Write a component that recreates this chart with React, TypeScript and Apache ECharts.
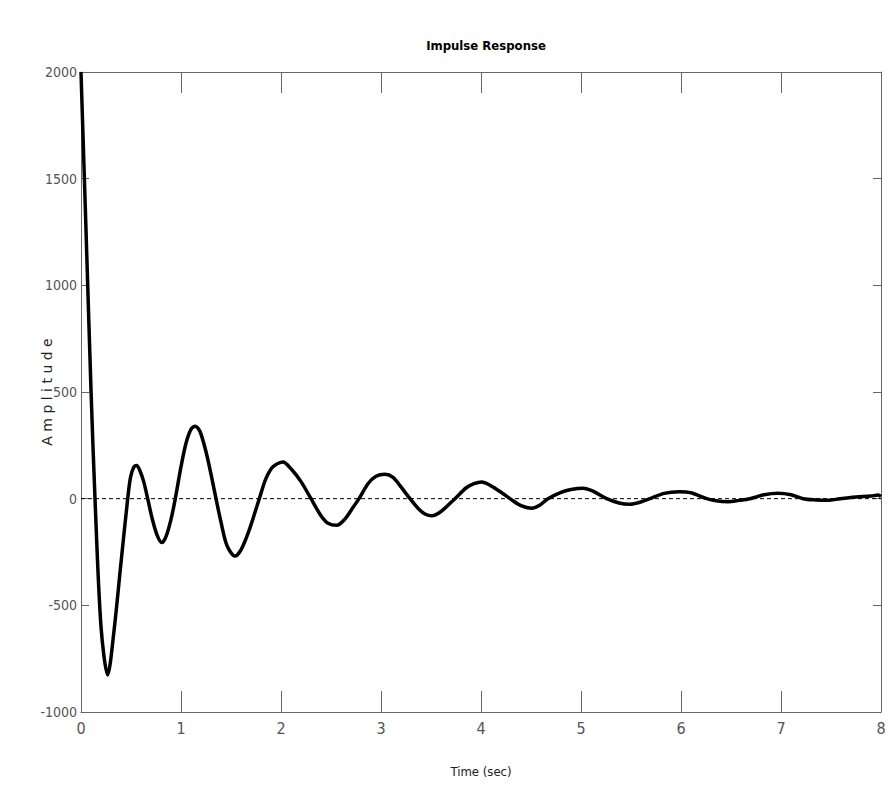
import React, { useEffect, useRef } from "react";
import * as echarts from "echarts";

const times = [
  0, 0.05, 0.1, 0.14, 0.2, 0.267, 0.33, 0.4, 0.467, 0.495, 0.525, 0.557, 0.59, 0.627, 0.667,
  0.71, 0.76, 0.807, 0.85, 0.9, 0.943, 1.0, 1.05, 1.1, 1.143, 1.19, 1.25, 1.3, 1.35, 1.4,
  1.46, 1.54, 1.6, 1.68, 1.783, 1.85, 1.92, 2.02, 2.1, 2.2, 2.3, 2.4, 2.47, 2.557, 2.64,
  2.7, 2.78, 2.87, 2.95, 3.04, 3.12, 3.2, 3.29, 3.38, 3.44, 3.507, 3.6, 3.74, 3.85, 3.93,
  4.007, 4.1, 4.2, 4.29, 4.4, 4.507, 4.59, 4.67, 4.8, 4.9, 5.02, 5.12, 5.257, 5.38, 5.49,
  5.58, 5.69, 5.83, 5.98, 6.1, 6.257, 6.35, 6.47, 6.58, 6.69, 6.83, 6.97, 7.1, 7.22, 7.35,
  7.47, 7.59, 7.75, 7.9, 7.97, 8.0,
];
const amplitude = [
  2000, 1260, 510, 0, -600, -826, -620, -300, 0, 100, 145, 155, 130, 80, 0,
  -90, -170, -206, -178, -97, 0, 150, 260, 325, 340, 315, 220, 115, 0, -110,
  -220, -269, -240, -150, 0, 95, 150, 172, 140, 80, 0, -80, -115, -125, -95,
  -55, 0, 70, 105, 114, 100, 55, 0, -50, -72, -80, -60, 0, 50, 70,
  78, 60, 30, 0, -33, -45, -30, 0, 30, 43, 49, 35, 0, -20, -26,
  -18, 0, 25, 33, 28, 0, -10, -14, -8, 0, 18, 25, 18, 0, -6,
  -8, 0, 8, 12, 17, 10,
];
const zeroLine = [
  [0, 0],
  [8, 0],
];
const titleText = "Impulse Response";
const xName = "Time (sec)";
const yName = "A m p l i t u d e";

const narrow = "'Liberation Sans Narrow', 'DejaVu Sans Condensed', 'Liberation Sans', sans-serif";
const axisGray = "#666666";

export default function App() {
  const ref = useRef<HTMLDivElement>(null);
  useEffect(() => {
    if (!ref.current) return;
    const chart = echarts.init(ref.current, null, { renderer: "svg" });
    const data = times.map((t, i) => [t, amplitude[i]]);
    const plain = (v: number) => String(v);
    const xBase = {
      type: "value" as const,
      min: 0,
      max: 8,
      interval: 1,
      splitLine: { show: false },
      axisLine: { show: true, onZero: false, lineStyle: { color: axisGray, width: 1 } },
      axisTick: { show: true, inside: true, length: 21, lineStyle: { color: axisGray } },
    };
    const yBase = {
      type: "value" as const,
      min: -1000,
      max: 2000,
      interval: 500,
      splitLine: { show: false },
      axisLine: { show: true, onZero: false, lineStyle: { color: axisGray, width: 1 } },
      axisTick: { show: true, inside: true, length: 8, lineStyle: { color: axisGray } },
    };
    chart.setOption({
      animation: false,
      backgroundColor: "#ffffff",
      title: {
        text: titleText,
        left: 481,
        textAlign: "center",
        top: 34,
        textStyle: { fontFamily: narrow, fontWeight: "bold", fontSize: 13, color: "#000" },
      },
      grid: { left: 81, right: 11, top: 72, bottom: 73 },
      xAxis: [
        {
          ...xBase,
          position: "bottom",
          name: xName,
          nameLocation: "middle",
          nameGap: 53,
          nameMoveOverlap: false,
          nameTextStyle: { fontFamily: narrow, fontSize: 13, color: "#222" },
          axisLabel: { fontFamily: narrow, fontSize: 16, color: "#555", margin: 8, formatter: plain },
        },
        { ...xBase, position: "top", axisLabel: { show: false } },
      ],
      yAxis: [
        {
          ...yBase,
          position: "left",
          name: yName,
          nameLocation: "middle",
          nameGap: 27,
          nameMoveOverlap: false,
          nameTextStyle: { fontFamily: "'DejaVu Sans', sans-serif", fontSize: 14, color: "#222" },
          axisLabel: { fontFamily: narrow, fontSize: 14, color: "#555", margin: 4, formatter: plain },
        },
        { ...yBase, position: "right", axisLabel: { show: false } },
      ],
      series: [
        {
          type: "line",
          data: zeroLine,
          xAxisIndex: 0,
          yAxisIndex: 0,
          symbol: "none",
          lineStyle: { color: "#000", width: 1, type: [4, 3] },
          z: 1,
        },
        {
          type: "line",
          data,
          xAxisIndex: 0,
          yAxisIndex: 0,
          symbol: "none",
          smooth: 0.3,
          lineStyle: { color: "#000", width: 3.5 },
          z: 2,
        },
      ],
    });
    return () => chart.dispose();
  }, []);
  return (
    <div
      ref={ref}
      style={{ position: "fixed", left: 0, top: 0, width: 892, height: 785, background: "#fff" }}
    />
  );
}
